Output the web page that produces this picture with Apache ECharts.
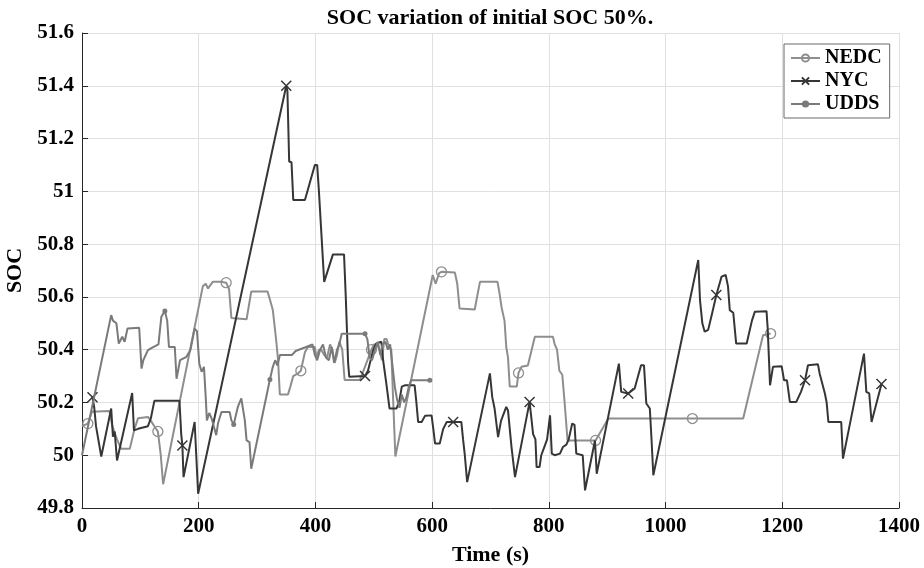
<!DOCTYPE html>
<html>
<head>
<meta charset="utf-8">
<script src="https://cdn.jsdelivr.net/npm/echarts@6.0.0/dist/echarts.min.js"></script>
<style>html,body{margin:0;padding:0;background:#fff}#c{width:924px;height:568px}</style>
</head>
<body>
<div id="c"></div>
<script>
const FONT = "'Liberation Serif','Times New Roman',serif";

const xTicks = [0, 200, 400, 600, 800, 1000, 1200, 1400];
const yTicks = [49.8, 50, 50.2, 50.4, 50.6, 50.8, 51, 51.2, 51.4, 51.6];

const nedcT = [0,10,17,47,52,60,67,82,90,96,113,118,124,130,135,139,207,212,216,224,238,247,252,256,282,290,318,322,327,330,333,336,339,353,357,362,370,375,382,387,399,402,406,410,415,420,425,429,433,437,441,446,450,476,484,496,500,505,510,514,518,522,526,530,533,537,601,606,612,616,639,643,647,673,677,682,712,715,719,724,727,730,733,745,748,753,764,776,807,810,814,818,823,827,832,880,902,1046,1133,1167,1180];
const nedcV = [50.11,50.12,50.165,50.168,50.11,50.06,50.025,50.025,50.10,50.14,50.145,50.13,50.11,50.09,50.0,49.89,50.64,50.65,50.632,50.657,50.657,50.654,50.63,50.52,50.515,50.62,50.62,50.59,50.55,50.49,50.43,50.36,50.23,50.23,50.26,50.30,50.31,50.32,50.39,50.41,50.41,50.37,50.40,50.40,50.38,50.37,50.42,50.40,50.35,50.38,50.43,50.40,50.285,50.285,50.33,50.40,50.42,50.42,50.40,50.36,50.44,50.44,50.41,50.40,50.22,49.995,50.683,50.65,50.69,50.695,50.692,50.65,50.556,50.552,50.60,50.657,50.657,50.62,50.56,50.51,50.41,50.37,50.26,50.26,50.312,50.335,50.34,50.449,50.449,50.42,50.40,50.32,50.305,50.2,50.056,50.056,50.139,50.139,50.139,50.455,50.461];
const nedcMarks = [10,130,247,375,496,616,748,880,1046,1180];

const nycT = [18,21,24,33,50,53,56,60,86,89,96,113,118,124,167,170,172,174,193,199,350,352,355,359,362,382,399,403,406,415,430,449,452,456,458,485,490,499,504,513,516,521,527,539,544,548,553,570,573,576,582,588,599,602,605,613,619,625,636,650,653,656,660,699,703,707,710,713,718,727,730,733,736,742,767,773,777,779,784,787,792,797,802,805,810,819,824,830,834,840,844,847,858,862,879,882,920,924,936,947,958,963,967,973,976,979,1056,1059,1063,1067,1073,1080,1087,1096,1103,1107,1110,1116,1121,1139,1148,1153,1173,1175,1179,1184,1199,1203,1208,1213,1224,1232,1239,1244,1261,1264,1267,1273,1276,1279,1301,1304,1340,1344,1349,1353,1370];
const nycV = [50.22,50.18,50.11,49.995,50.177,50.07,50.09,49.98,50.236,50.094,50.10,50.11,50.14,50.206,50.206,50.08,50.037,49.917,50.126,49.854,51.40,51.38,51.113,51.11,50.967,50.967,51.10,51.10,51.0,50.657,50.761,50.761,50.6,50.35,50.297,50.30,50.32,50.398,50.423,50.43,50.36,50.28,50.177,50.177,50.208,50.26,50.265,50.265,50.2,50.126,50.126,50.15,50.151,50.1,50.044,50.044,50.1,50.126,50.126,50.126,50.06,50.0,49.898,50.31,50.22,50.177,50.17,50.069,50.13,50.183,50.17,50.1,50.031,49.917,50.202,50.08,50.06,49.955,49.955,50.0,50.03,50.06,50.151,50.006,50.0,50.006,50.031,50.04,50.06,50.12,50.115,50.006,50.0,49.867,50.056,49.93,50.347,50.24,50.234,50.253,50.341,50.341,50.196,50.177,50.057,49.924,50.74,50.588,50.5,50.468,50.475,50.54,50.607,50.677,50.683,50.64,50.55,50.54,50.423,50.423,50.51,50.544,50.546,50.48,50.265,50.335,50.337,50.284,50.284,50.202,50.202,50.24,50.284,50.341,50.345,50.31,50.315,50.234,50.2,50.126,50.126,49.987,50.385,50.24,50.234,50.126,50.27];
const nycMarks = [18,172,350,485,636,767,936,1087,1239,1370];

const uddsT = [0,50,53,56,59,63,66,69,73,78,98,102,105,113,122,131,136,142,146,149,159,162,165,168,179,186,193,197,201,205,209,212,214,218,222,227,230,233,239,253,256,260,263,267,273,276,279,282,287,290,322,327,331,335,339,360,366,384,395,399,403,408,413,418,423,428,432,437,441,445,485,489,493,497,502,507,511,515,520,524,528,532,536,540,544,548,552,556,560,564,596];
const uddsV = [50.00,50.531,50.51,50.515,50.50,50.423,50.42,50.449,50.43,50.48,50.483,50.328,50.36,50.398,50.41,50.42,50.525,50.547,50.51,50.41,50.41,50.29,50.29,50.36,50.373,50.40,50.48,50.47,50.347,50.316,50.335,50.22,50.132,50.16,50.14,50.10,50.076,50.12,50.164,50.164,50.132,50.116,50.145,50.183,50.215,50.21,50.132,50.056,50.05,49.949,50.287,50.335,50.36,50.34,50.38,50.38,50.395,50.41,50.42,50.38,50.36,50.40,50.42,50.37,50.36,50.41,50.35,50.40,50.42,50.46,50.46,50.44,50.37,50.36,50.40,50.43,50.38,50.42,50.43,50.40,50.42,50.34,50.26,50.21,50.18,50.23,50.20,50.22,50.26,50.284,50.284];
const uddsMarks = [142,260,322,485,596];

const NEDC_C = '#8e8e8e', NYC_C = '#363636', UDDS_C = '#7a7a7a';

function build(T, V, marks) {
  return T.map((t, i) => marks.includes(t) ? [t, V[i]] : { value: [t, V[i]], symbol: 'none' });
}

function axisCommon() {
  return {
    axisLine: { show: true, onZero: false, lineStyle: { color: '#262626', width: 1 } },
    axisTick: { show: true, inside: true, length: 6, lineStyle: { color: '#262626' } },
    splitLine: { show: true, lineStyle: { color: '#e0e0e0', width: 1 } },
    axisLabel: { color: '#000', fontFamily: FONT, fontWeight: 'bold', fontSize: 21, margin: 8,
                 formatter: v => String(v) },
    nameTextStyle: { color: '#000', fontFamily: FONT, fontWeight: 'bold', fontSize: 22 }
  };
}

const chart = echarts.init(document.getElementById('c'), null, { renderer: 'canvas' });
chart.setOption({
  animation: false,
  backgroundColor: '#fff',
  title: {
    text: 'SOC variation of initial SOC 50%.',
    left: 490, top: 7, textAlign: 'center', padding: 0,
    textStyle: { color: '#000', fontFamily: FONT, fontWeight: 'bold', fontSize: 22 }
  },
  grid: { left: 82, right: 25, top: 33, bottom: 60, containLabel: false, outerBoundsMode: 'none' },
  legend: {
    data: ['NEDC', 'NYC', 'UDDS'],
    orient: 'vertical', left: 784, top: 44,
    itemWidth: 29, itemHeight: 9, itemGap: 3,
    padding: [4, 8, 4, 6],
    backgroundColor: '#fff', borderColor: '#6a6a6a', borderWidth: 1,
    textStyle: { color: '#000', fontFamily: FONT, fontWeight: 'bold', fontSize: 20 }
  },
  xAxis: Object.assign(axisCommon(), {
    type: 'value', min: xTicks[0], max: xTicks[xTicks.length - 1], interval: xTicks[1] - xTicks[0],
    name: 'Time (s)', nameLocation: 'middle', nameGap: 36
  }),
  yAxis: Object.assign(axisCommon(), {
    type: 'value', min: yTicks[0], max: yTicks[yTicks.length - 1], interval: 0.2,
    name: 'SOC', nameLocation: 'middle', nameGap: 52, nameRotate: 90
  }),
  series: [
    {
      name: 'NEDC', type: 'line', data: build(nedcT, nedcV, nedcMarks),
      symbol: 'circle', symbolSize: 10, showSymbol: true,
      lineStyle: { color: NEDC_C, width: 2 },
      itemStyle: { color: 'rgba(0,0,0,0)', borderColor: NEDC_C, borderWidth: 1.3 },
      emphasis: { disabled: true }, z: 2
    },
    {
      name: 'NYC', type: 'line', data: build(nycT, nycV, nycMarks),
      symbol: 'path://M0,0L10,10M10,0L0,10', symbolSize: 10, showSymbol: true,
      lineStyle: { color: NYC_C, width: 2 },
      itemStyle: { color: 'rgba(0,0,0,0)', borderColor: NYC_C, borderWidth: 1.5 },
      emphasis: { disabled: true }, z: 3
    },
    {
      name: 'UDDS', type: 'line', data: build(uddsT, uddsV, uddsMarks),
      symbol: 'circle', symbolSize: 5, showSymbol: true,
      lineStyle: { color: UDDS_C, width: 2 },
      itemStyle: { color: UDDS_C },
      emphasis: { disabled: true }, z: 4
    }
  ]
});
</script>
</body>
</html>
